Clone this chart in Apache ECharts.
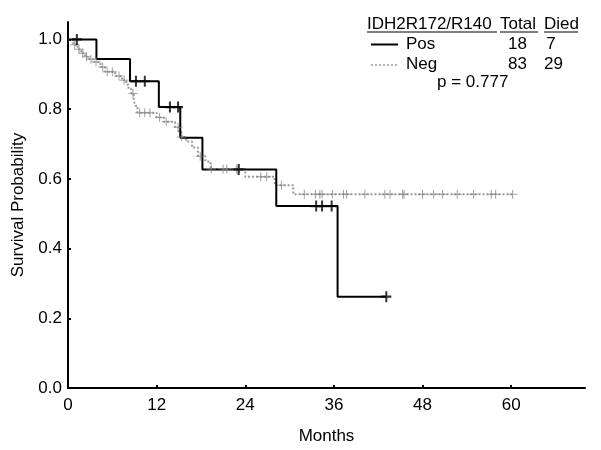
<!DOCTYPE html>
<html><head><meta charset="utf-8">
<script src="https://cdn.jsdelivr.net/npm/echarts@6/dist/echarts.min.js"></script>
<style>html,body{margin:0;padding:0;background:#fff}#c{width:601px;height:450px}</style>
</head><body><div id="c"></div>
<script>
// Kaplan-Meier step data (time in months, survival probability after each step)
const posTimes = [0, 3.85, 8.4, 12.3, 15.2, 18.2, 28.2, 36.5, 43.1];
const posSurv  = [1, 0.944, 0.88, 0.806, 0.718, 0.627, 0.522, 0.262, 0.262];
const posCensor = [1.2, 9.2, 10.4, 13.8, 14.9, 23.1, 33.6, 34.4, 35.7, 43.1];

const negTimes = [0, 0.7, 1.3, 1.8, 2.3, 2.9, 3.5, 4.4, 5.0, 6.4, 7.3, 7.9, 8.2, 8.6, 8.9, 9.1, 9.4, 12.0, 13.0, 14.5, 15.0, 15.35, 16.0, 16.8, 17.6, 18.6, 19.3, 24.0, 28.0, 30.5, 60.2];
const negSurv  = [1, 0.985, 0.972, 0.96, 0.95, 0.943, 0.935, 0.921, 0.907, 0.895, 0.883, 0.87, 0.857, 0.845, 0.827, 0.81, 0.79, 0.776, 0.764, 0.748, 0.735, 0.72, 0.707, 0.69, 0.665, 0.65, 0.628, 0.606, 0.582, 0.556, 0.556];
const negCensor = [0.9, 1.5, 2.0, 2.5, 3.1, 3.8, 4.7, 5.3, 6.0, 6.9, 7.6, 8.8, 9.7, 10.4, 11.1, 12.4, 13.3, 14.9, 15.4, 17.9, 19.4, 21.0, 21.5, 22.8, 23.2, 26.1, 26.9, 28.9, 32.0, 33.5, 34.1, 34.4, 35.8, 37.3, 37.7, 40.2, 42.9, 43.6, 45.3, 45.5, 48.0, 49.5, 50.7, 52.7, 54.9, 57.3, 57.9, 60.2];

const xTicks = [0, 12, 24, 36, 48, 60];
const yTicks = [0, 0.2, 0.4, 0.6, 0.8, 1.0];

const legendHeader = ['IDH2R172/R140', 'Total', 'Died'];
const legendRows = [['Pos', '18', '7'], ['Neg', '83', '29']];
const pText = 'p = 0.777';

function stepAt(times, surv, t) {
  let v = surv[0];
  for (let i = 0; i < times.length; i++) { if (times[i] <= t) v = surv[i]; }
  return v;
}
const zip = (a, b) => a.map((v, i) => [v, b[i]]);

const FONT = 'Liberation Sans, Arial, sans-serif';
const plusNeg = 'path://M4,0h1v4h4v1h-4v4h-1v-4h-4v-1h4z';
const plusPos = 'path://M4,0h2v4h4v2h-4v4h-2v-4h-4v-2h4z';

const chart = echarts.init(document.getElementById('c'), null, {renderer: 'canvas'});
const txt = (x, y, text, align) => ({type: 'text', z: 100, style: {x, y, text, fill: '#000', font: '17px ' + FONT, textAlign: align || 'left', textVerticalAlign: 'middle'}});
const ln = (x1, y1, x2, y2, extra) => ({type: 'line', z: 100, shape: {x1, y1, x2, y2}, style: Object.assign({stroke: '#000', lineWidth: 1}, extra || {})});

chart.setOption({
  animation: false,
  backgroundColor: '#fff',
  grid: {left: 68, right: 16, top: 22, bottom: 62, containLabel: false, outerBoundsMode: 'none'},
  xAxis: {
    type: 'value', min: 0, max: 70,
    name: 'Months', nameLocation: 'middle', nameGap: 40,
    nameTextStyle: {fontFamily: FONT, fontSize: 17, color: '#000'},
    axisLine: {show: true, onZero: false, lineStyle: {color: '#000', width: 2}},
    axisTick: {show: true, inside: true, length: 3, lineStyle: {color: '#000', width: 2}, customValues: xTicks},
    axisLabel: {fontFamily: FONT, fontSize: 17, color: '#000', margin: 9, customValues: xTicks},
    splitLine: {show: false}
  },
  yAxis: {
    type: 'value', min: 0, max: 1.05,
    name: 'Survival Probability', nameLocation: 'middle', nameGap: 41,
    nameTextStyle: {fontFamily: FONT, fontSize: 17, color: '#000'},
    axisLine: {show: true, onZero: false, lineStyle: {color: '#000', width: 2}},
    axisTick: {show: true, inside: true, length: 3, lineStyle: {color: '#000', width: 2}, customValues: yTicks},
    axisLabel: {fontFamily: FONT, fontSize: 17, color: '#000', margin: 6, customValues: yTicks, formatter: v => v.toFixed(1)},
    splitLine: {show: false}
  },
  series: [
    {type: 'line', name: 'Neg', step: 'end', showSymbol: false, z: 2,
     data: zip(negTimes, negSurv),
     lineStyle: {color: '#9a9a9a', width: 2, type: [2, 2]}},
    {type: 'line', name: 'Pos', step: 'end', showSymbol: false, z: 3,
     data: zip(posTimes, posSurv),
     lineStyle: {color: '#000', width: 2}},
    {type: 'scatter', name: 'NegC', z: 4, symbol: plusNeg, symbolSize: 9,
     data: negCensor.map(t => [t, stepAt(negTimes, negSurv, t)]),
     itemStyle: {color: '#8a8a8a'}},
    {type: 'scatter', name: 'PosC', z: 5, symbol: plusPos, symbolSize: [10, 11],
     data: posCensor.map(t => [t, stepAt(posTimes, posSurv, t)]),
     itemStyle: {color: '#000'}}
  ],
  graphic: [
    txt(367, 24, legendHeader[0]),
    txt(500, 24, legendHeader[1]),
    txt(544, 24, legendHeader[2]),
    ln(367, 32, 497, 32),
    ln(500, 32, 538, 32),
    ln(544, 32, 578, 32),
    ln(371, 44.5, 398, 44.5, {lineWidth: 2}),
    ln(371, 65, 398, 65, {stroke: '#9a9a9a', lineWidth: 1.5, lineDash: [2, 2]}),
    txt(406, 44, legendRows[0][0]),
    txt(527, 44, legendRows[0][1], 'right'),
    txt(551, 44, legendRows[0][2], 'center'),
    txt(406, 64, legendRows[1][0]),
    txt(527, 64, legendRows[1][1], 'right'),
    txt(544, 64, legendRows[1][2], 'left'),
    txt(437, 82.5, pText, 'left')
  ]
});
</script></body></html>
